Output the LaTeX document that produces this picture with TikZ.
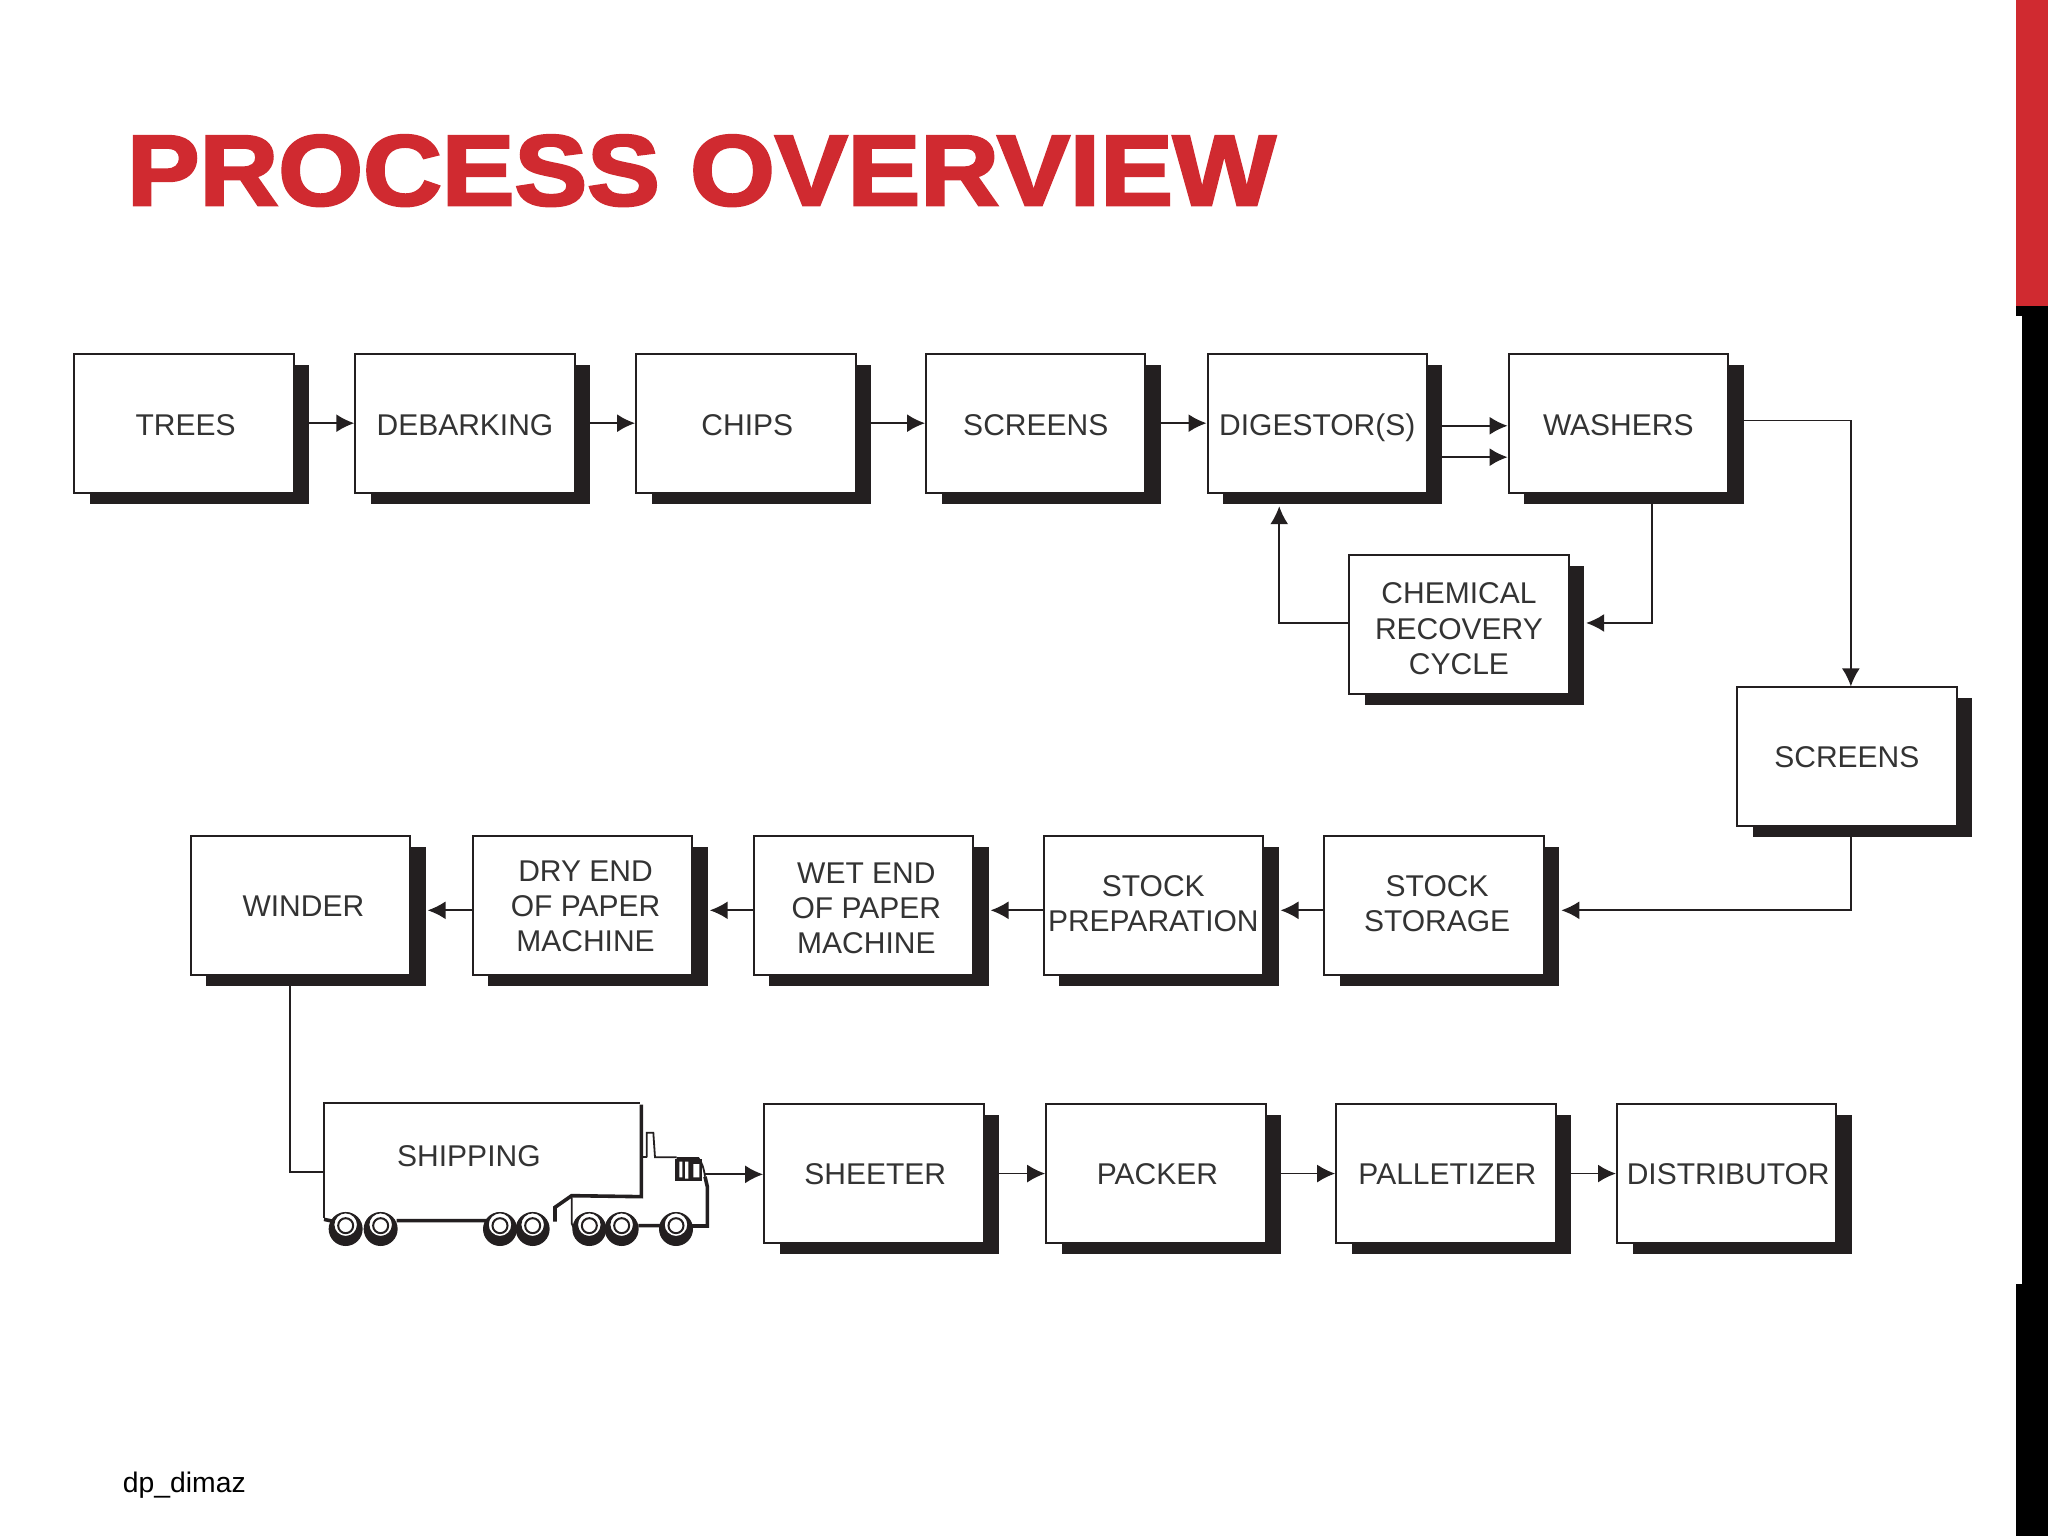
\documentclass[tikz,border=0pt]{standalone}
\usepackage{fontspec}
\setmainfont{Liberation Sans}
\newfontfamily\titlefont{Liberation Sans}[FakeStretch=1.09,BoldFeatures={FakeBold=2.8}]
\usetikzlibrary{arrows.meta,shadows,backgrounds}
\definecolor{ink}{HTML}{231F20}
\definecolor{txt}{HTML}{333333}
\definecolor{brand}{HTML}{D02A30}
\newcommand{\hs}{\hspace*{3pt}}
\tikzset{
  pbox/.style={draw=ink,line width=2pt,fill=white,text=txt,minimum width=219.4pt,minimum height=139pt,inner sep=0pt,align=center,
    font=\fontsize{30}{35.3}\selectfont,text height=21.5pt,text depth=0pt,
    general shadow={fill=ink,shadow xshift=15.5pt,shadow yshift=-11pt}},
  tl/.style={text height=#1pt,text depth=0pt},
  conn/.style={draw=ink,line width=1.8pt},
  arr/.style={conn,-{Latex[length=18pt,width=18pt]}},
  trk/.style={draw=ink,line width=1.8pt},
  trkb/.style={draw=ink,line width=3.6pt},
}
\newcommand{\wheel}[1]{%
  \fill[ink] (#1,447) circle[radius=17pt];
  \filldraw[fill=white,draw=ink,line width=1.4pt] (#1,434) circle[radius=12pt];
  \filldraw[fill=white,draw=ink,line width=2pt] (#1,437) circle[radius=7.5pt];
}
\begin{document}
\begin{tikzpicture}[x=1.30612pt,y=-1.30612pt]
\useasboundingbox (0,0) rectangle (1568,1176);
% side bar
\fill[brand] (1543.5,0) rectangle (1568,234.5);
\fill[black] (1543.5,234.5) rectangle (1568,242);
\fill[black] (1548,242) rectangle (1568,983);
\fill[black] (1543.5,983) rectangle (1568,1176);
% title and credit
\node[anchor=base west,inner sep=0pt,text=brand,font=\titlefont\bfseries\fontsize{100}{110}\selectfont] (title) at (97,157) {PROCESS OVERVIEW};
\node[anchor=base west,inner sep=0pt,text=black,font=\fontsize{28.3}{32}\selectfont] (credit) at (94,1143) {dp\_dimaz};
% boxes
\node[pbox,tl=24.1] (trees) at (141,324) {\hs TREES};
\node[pbox,tl=24.1] (debark) at (356,324) {DEBARKING};
\node[pbox,tl=24.1] (chips) at (571,324) {\hs CHIPS};
\node[pbox,tl=24.1] (screensa) at (793,324) {SCREENS};
\node[pbox,tl=24.1] (digest) at (1008.5,324) {DIGESTOR(S)};
\node[pbox,tl=24.1] (wash) at (1239,324) {WASHERS};
\node[pbox,tl=98.7] (chem) at (1117,478.5) {CHEMICAL\\RECOVERY\\CYCLE};
\node[pbox,tl=22] (screensb) at (1414,579.5) {SCREENS};
\node[pbox,tl=51.6] (stor) at (1098,693.5) {\hs\hs STOCK\\\hs\hs STORAGE};
\node[pbox,tl=51.6] (prep) at (883,693.5) {STOCK\\PREPARATION};
\node[pbox,tl=96] (wet) at (661,693.5) {\hs\hs WET END\\\hs\hs OF PAPER\\\hs\hs MACHINE};
\node[pbox,tl=92.1] (dry) at (446,693.5) {\hs\hs DRY END\\\hs\hs OF PAPER\\\hs\hs MACHINE};
\node[pbox] (winder) at (230,693.5) {\hs\hs WINDER};
\node[pbox] (sheeter) at (669,898.5) {\hs SHEETER};
\node[pbox] (packer) at (885,898.5) {\hs PACKER};
\node[pbox] (pallet) at (1107,898.5) {\hs PALLETIZER};
\node[pbox] (distrib) at (1322,898.5) {\hs DISTRIBUTOR};
% truck
\begin{scope}[x=.33333pt,y=-.33333pt,shift={(300pt,-1080pt)}]
  \draw[trk] (72,415) -- (72,68) -- (1020,68);
  \draw[trkb] (1024,74) -- (1024,350) -- (815,347) -- (765,382) -- (765,425);
  \draw[trkb] (72,418) -- (100,424) (290,422) -- (570,422) (1015,437) -- (1090,437);
  \draw[trk] (815,347) -- (815,430) -- (830,465);
  \draw[trk] (1040,232) -- (1040,158) -- (1060,158) -- (1065,232) -- (1130,232);
  \draw[trk] (1024,232) -- (1040,232);
  \draw[trk] (1130,234) -- (1195,234) .. controls (1205,245) and (1212,265) .. (1215,290);
  \draw[trkb] (1215,290) -- (1222,320) -- (1222,438) -- (1175,438);
  \fill[ink] (1125,238) rectangle (1205,303);
  \fill[white] (1138,245) rectangle (1147,292) (1155,245) rectangle (1165,296) (1180,252) rectangle (1198,292);
  \wheel{137}\wheel{242}\wheel{600}\wheel{698}\wheel{868}\wheel{965}\wheel{1128}
  \coordinate (truckin) at (72,275);
  \coordinate (truckout) at (1215,283);
\end{scope}
\node[inner sep=0pt,text=txt,font=\fontsize{30}{35.3}\selectfont] (ship) at (359,885) {SHIPPING};
% connectors
\begin{scope}[on background layer]
\draw[arr] (trees) -- (debark);
\draw[arr] (debark) -- (chips);
\draw[arr] (chips) -- (screensa);
\draw[arr] (screensa) -- (digest);
\draw[arr] ([yshift=-2.6pt]digest.east) -- ([yshift=-2.6pt]wash.west);
\draw[arr] ([yshift=-34pt]digest.east) -- ([yshift=-34pt]wash.west);
\draw[arr] ([yshift=2.6pt]wash.east) -| ([xshift=4pt]screensb.north);
\draw[arr] ([xshift=34pt]wash.south) |- ([xshift=16.5pt,yshift=2pt]chem.east);
\draw[arr] ([yshift=2pt]chem.west) -| ([xshift=-38pt,yshift=-12.5pt]digest.south);
\draw[arr] ([xshift=4pt]screensb.south) |- ([xshift=16.5pt,yshift=-4.5pt]stor.east);
\draw[arr] ([yshift=-4.5pt]stor.west) -- ([xshift=16.5pt,yshift=-4.5pt]prep.east);
\draw[arr] ([yshift=-4.5pt]prep.west) -- ([xshift=16.5pt,yshift=-4.5pt]wet.east);
\draw[arr] ([yshift=-4.5pt]wet.west) -- ([xshift=16.5pt,yshift=-4.5pt]dry.east);
\draw[arr] ([yshift=-4.5pt]dry.west) -- ([xshift=16.5pt,yshift=-4.5pt]winder.east);
\draw[conn] ([xshift=-10.5pt]winder.south) |- (truckin);
\draw[arr] (truckout) -- (truckout -| sheeter.west);
\draw[arr] (sheeter) -- (packer);
\draw[arr] (packer) -- (pallet);
\draw[arr] (pallet) -- (distrib);
\end{scope}
\end{tikzpicture}
\end{document}
